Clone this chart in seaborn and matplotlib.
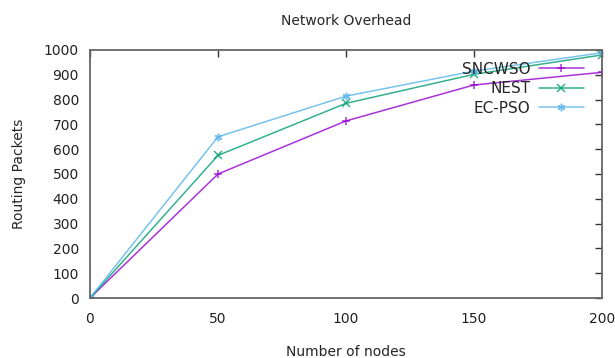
import matplotlib
matplotlib.use("Agg")
import matplotlib.pyplot as plt
import seaborn as sns
import pandas as pd

nodes = [0, 50, 100, 150, 200]
sncwso = [0, 500, 714, 859, 910]
nest = [0, 575, 785, 902, 980]
ecpso = [0, 650, 814, 915, 989]
series_names = ["SNCWSO", "NEST", "EC-PSO"]
colors = ["#9400d3", "#009e73", "#56b4e9"]
markers = ["+", "x", (6, 2, 0)]
xticks = [0, 50, 100, 150, 200]
yticks = [0, 100, 200, 300, 400, 500, 600, 700, 800, 900, 1000]

df = pd.DataFrame({
    "nodes": nodes * 3,
    "packets": sncwso + nest + ecpso,
    "series": sum([[n] * len(nodes) for n in series_names], []),
})

sns.set_style("white")
plt.rcParams['font.family'] = ['DejaVu Sans']
fig = plt.figure(figsize=(6.15, 3.58), dpi=100)
ax = fig.add_axes([90/615, 1-298/358, (602-90)/615, (298-50)/358])

for name, c, m in zip(series_names, colors, markers):
    sub = df[df.series == name]
    sns.lineplot(data=sub, x="nodes", y="packets", ax=ax, color=c, marker=m,
                 markersize=5.5, markeredgewidth=1.1, markeredgecolor=c,
                 linewidth=1.1, alpha=0.8, label=name)

ax.set_xlim(0, 200)
ax.set_ylim(0, 1000)
ax.set_xticks(xticks)
ax.set_yticks(yticks)
ax.tick_params(direction="in", length=5, width=1, color="#333333",
               top=True, right=True, labelsize=10, labelcolor="#222222")
ax.tick_params(axis="x", pad=10)
ax.tick_params(axis="y", pad=8)
for s in ax.spines.values():
    s.set_color("#666666")
    s.set_linewidth(1.3)
ax.set_xlabel("Number of nodes", fontsize=10, labelpad=14)
ax.set_ylabel("Routing Packets", fontsize=10, labelpad=13)
ax.set_title("Network Overhead", fontsize=10, pad=18)

leg = ax.legend(loc="upper right", markerfirst=False, frameon=False, fontsize=11,
                handlelength=2.9, borderaxespad=0.2, labelspacing=0.3,
                bbox_to_anchor=(0.982, 0.99), handletextpad=0.6)
for t in leg.get_texts():
    t.set_ha("right")

fig.savefig("out.png", dpi=100)
